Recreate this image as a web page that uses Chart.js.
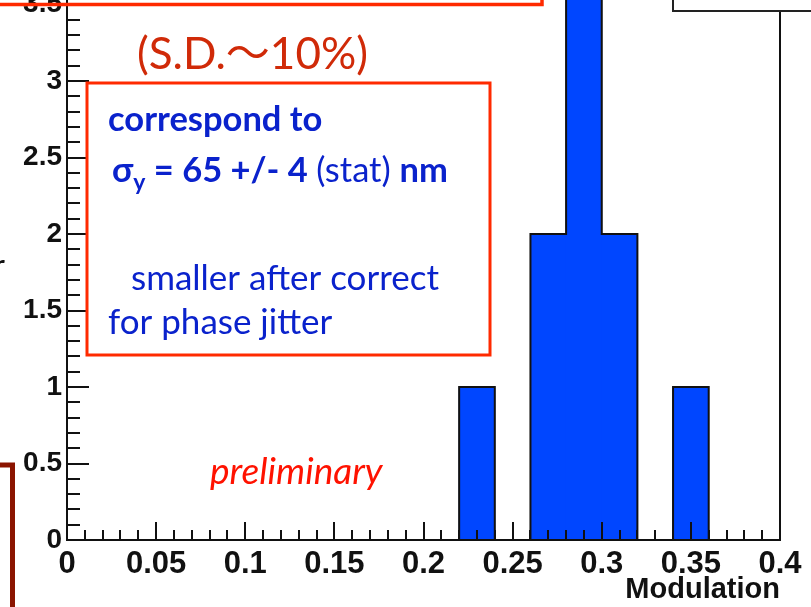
<!DOCTYPE html>
<html>
<head>
<meta charset="utf-8">
<script src="https://cdn.jsdelivr.net/npm/chart.js@4"></script>
<style>
  html, body { margin: 0; padding: 0; background: #fff; }
  #wrap { width: 811px; height: 607px; position: relative; overflow: hidden; }
</style>
</head>
<body>
<div id="wrap"><canvas id="modChart"></canvas></div>
<script>
// Histogram of modulation, bins of width 0.02
const binCenters = [0.01, 0.03, 0.05, 0.07, 0.09, 0.11, 0.13, 0.15, 0.17, 0.19,
                    0.21, 0.23, 0.25, 0.27, 0.29, 0.31, 0.33, 0.35, 0.37, 0.39];
const binCounts  = [0, 0, 0, 0, 0, 0, 0, 0, 0, 0,
                    0, 1, 0, 2, 4, 2, 0, 1, 0, 0];
const binWidth = 0.02;

const xTickValues = [0, 0.05, 0.1, 0.15, 0.2, 0.25, 0.3, 0.35, 0.4];
const xTickLabels = ['0', '0.05', '0.1', '0.15', '0.2', '0.25', '0.3', '0.35', '0.4'];
const yTickValues = [0, 0.5, 1, 1.5, 2, 2.5, 3, 3.5];
const yTickLabels = ['0', '0.5', '1', '1.5', '2', '2.5', '3', '3.5'];

const X_MAX = 0.4;
const Y_MAX = 3.53;

const barData = binCenters.map((x, i) => ({ x: x, y: binCounts[i] }));

// step outline following the top of the bins
const outline = [{ x: 0, y: 0 }];
binCenters.forEach((c, i) => outline.push({ x: c - binWidth / 2, y: binCounts[i] }));
outline.push({ x: X_MAX, y: 0 });

// ROOT-style inward ticks and frame
const framePlugin = {
    id: 'frame',
    afterDatasetsDraw(chart) {
        const ctx = chart.ctx;
        const a = chart.chartArea;
        const xs = chart.scales.x;
        const ys = chart.scales.y;
        ctx.save();
        ctx.strokeStyle = '#111';
        ctx.lineWidth = 2;
        ctx.beginPath();
        for (let k = 0; k <= 40; k++) {
            const px = Math.round(xs.getPixelForValue(k / 100));
            const len = (k % 5 === 0) ? 18 : 10;
            ctx.moveTo(px, a.bottom);
            ctx.lineTo(px, a.bottom - len);
        }
        for (let k = 0; k <= 35; k++) {
            const py = Math.round(ys.getPixelForValue(k / 10));
            const len = (k % 5 === 0) ? 22 : 13;
            ctx.moveTo(a.left, py);
            ctx.lineTo(a.left + len, py);
        }
        ctx.stroke();

        ctx.beginPath();
        ctx.moveTo(a.left, a.top - 5);
        ctx.lineTo(a.left, a.bottom);
        ctx.lineTo(a.right, a.bottom);
        ctx.lineTo(a.right, a.top - 5);
        ctx.stroke();
        ctx.restore();
    }
};

// slide overlays: boxes and notes
function drawRuns(ctx, x, y, runs) {
    runs.forEach(r => {
        ctx.font = r.font;
        ctx.fillText(r.text, x, y + (r.dy || 0));
        x += ctx.measureText(r.text).width;
    });
}

const notesPlugin = {
    id: 'notes',
    afterDraw(chart) {
        const ctx = chart.ctx;
        ctx.save();

        // stats box corner
        ctx.fillStyle = '#fff';
        ctx.fillRect(673, -5, 150, 16);
        ctx.strokeStyle = '#222';
        ctx.lineWidth = 2;
        ctx.strokeRect(673, -5, 150, 16);

        // top red box edge
        ctx.strokeStyle = '#ff2a00';
        ctx.lineWidth = 3.5;
        ctx.beginPath();
        ctx.moveTo(-5, 4.5);
        ctx.lineTo(542, 4.5);
        ctx.lineTo(542, -5);
        ctx.stroke();

        // dark red box at lower left
        ctx.strokeStyle = '#8b1400';
        ctx.lineWidth = 5;
        ctx.beginPath();
        ctx.moveTo(-5, 465);
        ctx.lineTo(12.5, 465);
        ctx.lineTo(12.5, 615);
        ctx.stroke();

        // partial letter at the left edge
        ctx.fillStyle = '#111';
        ctx.font = '30px Lato';
        ctx.fillText('r', -6, 276);

        // (S.D.~10%)
        ctx.fillStyle = '#d02a08';
        ctx.font = '44px Lato, "Noto Sans CJK JP"';
        ctx.fillText('(S.D.\u301C10%)', 137, 69);

        // result box
        ctx.fillStyle = '#fff';
        ctx.fillRect(87, 83, 403, 272);
        ctx.strokeStyle = '#ff2a00';
        ctx.lineWidth = 3;
        ctx.strokeRect(87, 83, 403, 272);

        ctx.fillStyle = '#0a22cc';
        ctx.font = 'bold 34.5px Lato';
        ctx.fillText('correspond to', 108, 131);
        drawRuns(ctx, 112, 182, [
            { text: '\u03C3', font: 'bold 34.5px Lato' },
            { text: 'y', font: 'bold 23px Lato', dy: 8 },
            { text: ' = 65 +/- 4 ', font: 'bold 34.5px Lato' },
            { text: '(stat) ', font: '34.5px Lato' },
            { text: 'nm', font: 'bold 34.5px Lato' }
        ]);
        ctx.font = '35px Lato';
        ctx.fillText('smaller after correct', 131, 290);
        ctx.fillText('for phase jitter', 108, 334);

        // preliminary
        ctx.fillStyle = '#ff1200';
        ctx.font = 'italic 37px Lato';
        ctx.fillText('preliminary', 210, 484);

        ctx.restore();
    }
};

new Chart(document.getElementById('modChart'), {
    type: 'bar',
    data: {
        datasets: [
            {
                type: 'line',
                data: outline,
                stepped: 'before',
                borderColor: '#111',
                borderWidth: 2,
                pointRadius: 0,
                fill: false,
                order: 0
            },
            {
                type: 'bar',
                data: barData,
                backgroundColor: '#0046ff',
                borderWidth: 0,
                barPercentage: 1,
                categoryPercentage: 1,
                order: 1
            }
        ]
    },
    options: {
        responsive: true,
        maintainAspectRatio: false,
        animation: false,
        layout: { padding: { top: 0, right: 31, left: 0, bottom: 0 } },
        plugins: {
            legend: { display: false },
            tooltip: { enabled: false }
        },
        scales: {
            x: {
                type: 'linear',
                offset: false,
                min: 0,
                max: X_MAX,
                grid: { display: false, drawTicks: false },
                border: { display: false },
                afterBuildTicks: s => { s.ticks = xTickValues.map(v => ({ value: v })); },
                afterFit: s => {
                    s.height = 67;
                    s.paddingLeft = 0;
                    s.paddingRight = 0;
                },
                ticks: {
                    color: '#111',
                    padding: 6,
                    maxRotation: 0,
                    autoSkip: false,
                    font: { family: 'Liberation Sans, Arial', weight: 'bold', size: 31 },
                    callback: (v, i) => xTickLabels[i]
                },
                title: {
                    display: true,
                    text: 'Modulation',
                    align: 'end',
                    color: '#111',
                    padding: { top: 0, bottom: 0 },
                    font: { family: 'Liberation Sans, Arial', weight: 'bold', size: 29 }
                }
            },
            y: {
                min: 0,
                max: Y_MAX,
                grid: { display: false, drawTicks: false },
                border: { display: false },
                afterBuildTicks: s => { s.ticks = yTickValues.map(v => ({ value: v })); },
                afterFit: s => {
                    s.width = 67;
                    s.paddingTop = 0;
                    s.paddingBottom = 0;
                },
                ticks: {
                    color: '#111',
                    padding: 5,
                    autoSkip: false,
                    font: { family: 'Liberation Sans, Arial', weight: 'bold', size: 28 },
                    callback: (v, i) => yTickLabels[i]
                }
            }
        }
    },
    plugins: [framePlugin, notesPlugin]
});
</script>
</body>
</html>
